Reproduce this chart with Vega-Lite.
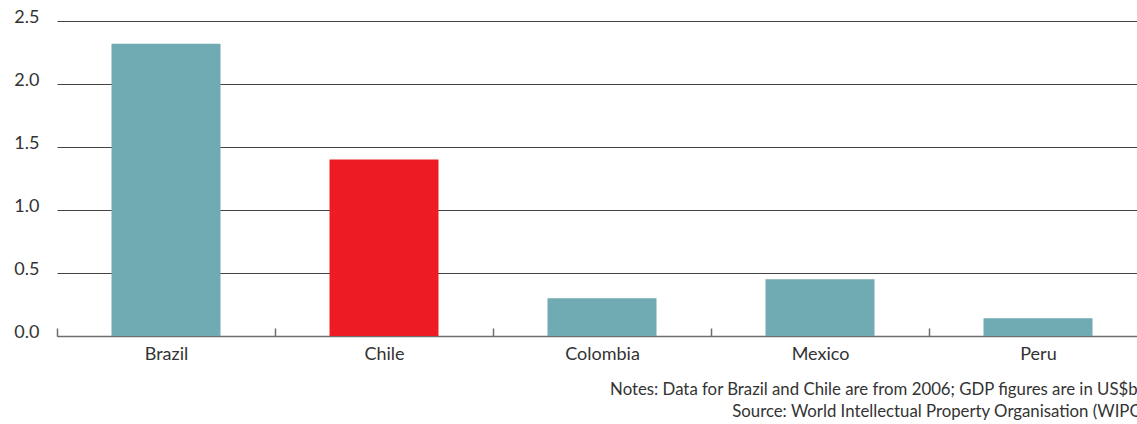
{
  "$schema": "https://vega.github.io/schema/vega-lite/v6.json",
  "autosize": {"type": "none"},
  "padding": {"left": 57, "top": 21, "right": 0, "bottom": 88},
  "width": 1090,
  "height": 315,
  "background": "#ffffff",
  "data": {
    "values": [
      {"country": "Brazil", "value": 2.32, "highlight": "no"},
      {"country": "Chile", "value": 1.4, "highlight": "yes"},
      {"country": "Colombia", "value": 0.3, "highlight": "no"},
      {"country": "Mexico", "value": 0.45, "highlight": "no"},
      {"country": "Peru", "value": 0.14, "highlight": "no"}
    ]
  },
  "title": {
    "text": ["Notes: Data for Brazil and Chile are from 2006; GDP figures are in US$bn", "Source: World Intellectual Property Organisation (WIPO)"],
    "orient": "bottom",
    "anchor": "end",
    "align": "right",
    "font": "Lato",
    "fontSize": 16.8,
    "fontWeight": "normal",
    "color": "#333333",
    "lineHeight": 22,
    "offset": 19
  },
  "mark": {"type": "bar"},
  "encoding": {
    "x": {
      "field": "country",
      "type": "nominal",
      "sort": null,
      "scale": {"paddingInner": 0.5, "paddingOuter": 0.25},
      "axis": {
        "title": null,
        "labelAngle": 0,
        "labelFont": "Lato",
        "labelFontSize": 18,
        "labelColor": "#333333",
        "domainColor": "#6e6e6e",
        "domainWidth": 1.5,
        "tickColor": "#6e6e6e",
        "tickWidth": 1.5,
        "tickSize": -8,
        "tickOffset": -109,
        "labelOffset": 109,
        "labelPadding": 17
      }
    },
    "y": {
      "field": "value",
      "type": "quantitative",
      "scale": {"domain": [0, 2.5], "nice": false},
      "axis": {
        "title": null,
        "values": [0, 0.5, 1, 1.5, 2, 2.5],
        "format": ".1f",
        "domain": false,
        "ticks": false,
        "labelFont": "Lato",
        "labelFontSize": 18,
        "labelColor": "#333333",
        "labelPadding": 18,
        "labelOffset": -4,
        "gridColor": "#444444",
        "gridWidth": 1,
        "gridOpacity": 1
      }
    },
    "color": {
      "field": "highlight",
      "type": "nominal",
      "scale": {"domain": ["no", "yes"], "range": ["#70aab2", "#ed1c24"]},
      "legend": null
    }
  },
  "config": {
    "view": {"stroke": null}
  }
}
